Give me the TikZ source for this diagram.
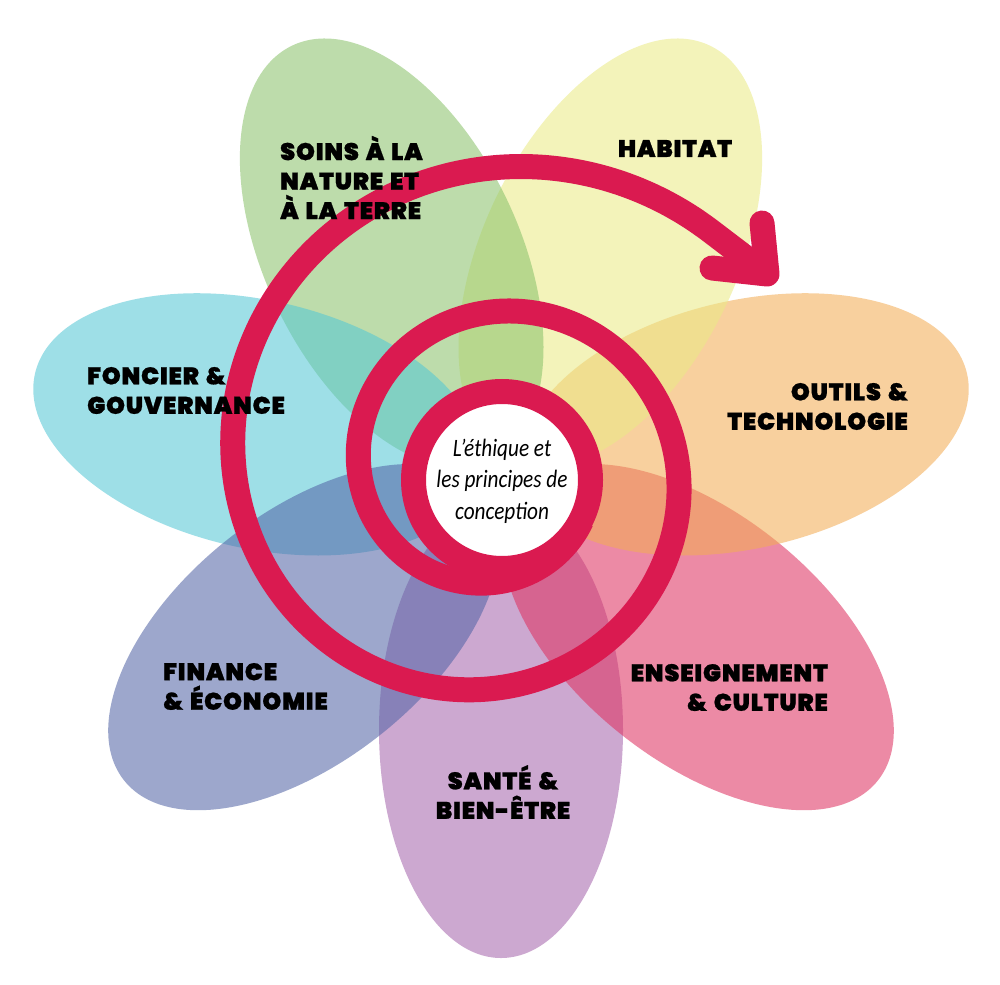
\documentclass[tikz,border=0pt]{standalone}
\usepackage{fontspec}
\IfFontExistsTF{Poppins Black}{\newfontfamily\labfont{Poppins Black}[LetterSpace=3.5, WordSpace=1.4, FakeBold=0.8]}{\newfontfamily\labfont{Liberation Sans Bold}}
\newfontfamily\centrefont{Carlito}[FakeStretch=0.85]
\definecolor{cSoins}{RGB}{139,195,108}
\definecolor{cHab}{RGB}{234,234,134}
\definecolor{cOut}{RGB}{243,173,85}
\definecolor{cEns}{RGB}{222,50,97}
\definecolor{cSan}{RGB}{167,102,173}
\definecolor{cFin}{RGB}{83,101,166}
\definecolor{cFon}{RGB}{85,199,213}
\definecolor{spir}{RGB}{218,26,80}
\tikzset{
  petal/.style={fill opacity=0.57},
  spiralline/.style={line width=25pt, draw=spir, line join=round},
  arrowhead/.style={line width=25pt, draw=spir, line cap=round, line join=round},
  lab/.style={font=\labfont\fontsize{24}{29.5}\selectfont, text=black, inner sep=0pt},
  centretext/.style={font=\centrefont\itshape\fontsize{25}{31.5}\selectfont, text=black, inner sep=0pt, align=center}
}
\begin{document}
\begin{tikzpicture}[x=1pt,y=1pt]
\useasboundingbox (0,0) rectangle (1000,-984);
\fill[white] (0,0) rectangle (1000,-984);
% petals (bottom to top)
\begin{scope}[shift={(501,-480)}]
\fill[petal, fill=cSan, rotate=270] (250,0) ellipse (228pt and 122pt);
\fill[petal, fill=cEns, rotate=321.43] (252,0) ellipse (230pt and 124pt);
\fill[petal, fill=cOut, rotate=12.86] (250,0) ellipse (228pt and 124pt);
\fill[petal, fill=cHab, rotate=64.29] (252,0) ellipse (230pt and 127pt);
\fill[petal, fill=cSoins, rotate=115.71] (252,0) ellipse (230pt and 127pt);
\fill[petal, fill=cFon, rotate=167.14] (250,0) ellipse (228pt and 124pt);
\fill[petal, fill=cFin, rotate=218.57] (252,0) ellipse (230pt and 124pt);
\end{scope}
% spiral
\coordinate (tip) at (767,-274);
\coordinate (a1) at (762,-223);
\coordinate (a2) at (712,-268);
\draw[spiralline] plot[domain=-150:492, samples=220, variable=\t, smooth]
  ({492-(133+0.2417*\t+2.93*(\t/100)*(\t/100))*cos(\t)}, {-469+(133+0.2417*\t+2.93*(\t/100)*(\t/100))*sin(\t)}) -- (tip);
\draw[arrowhead] (a1) -- (tip) -- (a2);
\draw[line width=25pt, draw=spir, fill=white] (502,-480) circle (88.5pt);
\node[centretext, name=centre] at (502,-481) {L’éthique et\\les principes de\\conception};
% labels
\node[lab, name=soins, anchor=west, align=left] at (280,-177.5) {SOINS À LA\\NATURE ET\\À LA TERRE};
\node[lab, name=habitat, anchor=center] at (675,-148.5) {HABITAT};
\node[lab, name=foncier, anchor=west, align=left] at (87,-390.5) {FONCIER \&\\GOUVERNANCE};
\node[lab, name=outils, anchor=east, align=right] at (908,-406.5) {OUTILS \&\\TECHNOLOGIE};
\node[lab, name=enseignement, anchor=east, align=right] at (828,-687.5) {ENSEIGNEMENT\\\& CULTURE};
\node[lab, name=finance, anchor=west, align=left] at (163,-686.5) {FINANCE\\\& ÉCONOMIE};
\node[lab, name=sante, anchor=center, align=center] at (503,-792) {SANTÉ \&\\BIEN-ÊTRE};
\end{tikzpicture}
\end{document}
